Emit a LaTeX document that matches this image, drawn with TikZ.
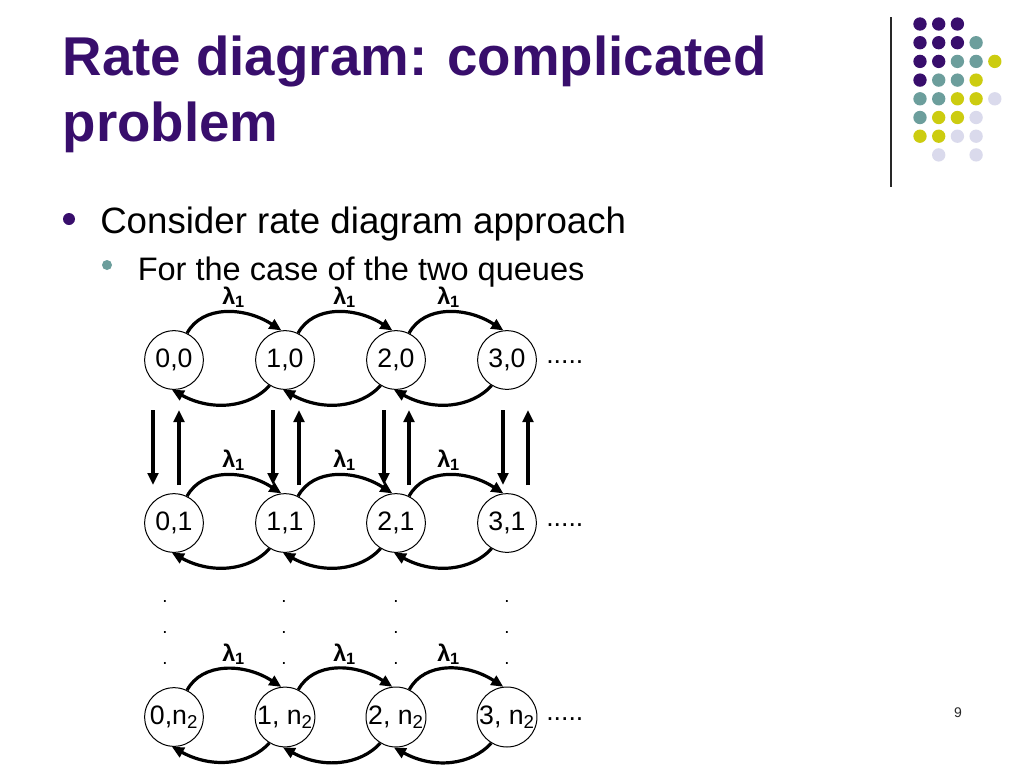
\documentclass[tikz,border=0pt]{standalone}
\usepackage{fontspec}
\setmainfont{Liberation Sans}
\usetikzlibrary{arrows.meta,calc}
\definecolor{titlepurple}{RGB}{56,14,108}
\definecolor{dotteal}{RGB}{108,158,156}
\definecolor{dotyellow}{RGB}{204,204,16}
\definecolor{dotlav}{RGB}{218,218,236}
\definecolor{rulegray}{RGB}{40,40,40}
\tikzset{
  state/.style={circle, draw=black, line width=0.75pt, minimum size=44pt, inner sep=0pt, font=\fontsize{20}{24}\selectfont},
  rate/.style={line width=2.4pt, -{Triangle[length=9pt,width=8pt]}},
  lam/.style={font=\fontsize{17.5}{20}\selectfont\bfseries, inner sep=0pt, anchor=base west},
  more/.style={font=\fontsize{20}{24}\selectfont, anchor=base west, inner sep=0pt},
  vdot/.style={font=\fontsize{14}{16}\selectfont, inner sep=0pt, anchor=base},
  deco/.style={circle, inner sep=0pt, minimum size=10pt},
}
\newcommand{\lmb}{λ\textsubscript{1}}
\begin{document}
\begin{tikzpicture}[x=0.75pt,y=-0.75pt]
\useasboundingbox (0,0) rectangle (1024,768);
\clip (0,0) rectangle (1024,768);
\fill[white] (0,0) rectangle (1024,768);
% title
\node[anchor=base west, inner sep=0pt, text=titlepurple, font=\fontsize{41}{49}\selectfont\bfseries] (t1) at (62.5,75) {Rate diagram: complicated};
\node[anchor=base west, inner sep=0pt, text=titlepurple, font=\fontsize{41}{49}\selectfont\bfseries] (t2) at (62.5,141) {problem};
% decoration
\draw[rulegray, line width=1.2pt] (891,17) coordinate (r1) -- (891,187) coordinate (r2);
\foreach \c/\x/\y in {
 titlepurple/0/0, titlepurple/1/0, titlepurple/2/0,
 titlepurple/0/1, titlepurple/1/1, titlepurple/2/1, dotteal/3/1,
 titlepurple/0/2, titlepurple/1/2, dotteal/2/2, dotteal/3/2, dotyellow/4/2,
 titlepurple/0/3, dotteal/1/3, dotteal/2/3, dotyellow/3/3,
 dotteal/0/4, dotteal/1/4, dotyellow/2/4, dotyellow/3/4, dotlav/4/4,
 dotteal/0/5, dotyellow/1/5, dotyellow/2/5, dotlav/3/5,
 dotyellow/0/6, dotyellow/1/6, dotlav/2/6, dotlav/3/6,
 dotlav/1/7, dotlav/3/7}
 \node[deco, fill=\c] (d\x\y) at ({920+18.7*\x},{24+18.7*\y}) {};
% bullets
\node[circle, fill=titlepurple, inner sep=0pt, minimum size=9pt] (bu1) at (69,219) {};
\node[anchor=base west, inner sep=0pt, font=\fontsize{27.5}{32}\selectfont] (l1) at (100,233) {Consider rate diagram approach};
\node[circle, fill=dotteal, inner sep=0pt, minimum size=7.5pt] (bu2) at (107,265) {};
\node[anchor=base west, inner sep=0pt, font=\fontsize{24.4}{28}\selectfont] (l2) at (137.5,280) {For the case of the two queues};
% states
\node[state] (a0) at (174,360) {0,0};
\node[state] (a1) at (285,360) {1,0};
\node[state] (a2) at (396,360) {2,0};
\node[state] (a3) at (507,360) {3,0};
\node[state] (b0) at (174,523) {0,1};
\node[state] (b1) at (285,523) {1,1};
\node[state] (b2) at (396,523) {2,1};
\node[state] (b3) at (507,523) {3,1};
\node[state] (c0) at (174,717) {0,n\textsubscript{2}};
\node[state] (c1) at (285,717) {1, n\textsubscript{2}};
\node[state] (c2) at (396,717) {2, n\textsubscript{2}};
\node[state] (c3) at (507,717) {3, n\textsubscript{2}};
% trailing dots
\node[more] (ma) at (546,363) {.....};
\node[more] (mb) at (546,526) {.....};
\node[more] (mc) at (546,720) {.....};
% arcs and rate labels
\foreach \p/\q/\lx in {a0/a1/48,a1/a2/48,a2/a3/41,b0/b1/48,b1/b2/48,b2/b3/41,c0/c1/48,c1/c2/48,c2/c3/41}{
  \draw[rate] (\p.64) .. controls +(15,-28) and +(-37,-24) .. (\q.97);
  \draw[rate] (\q.239) .. controls +(-20,22) and +(40,22) .. (\p.266);
  \node[lam] (lab\p) at ($(\p)+(\lx,-56)$) {\lmb};
}
% vertical arrows between row a and row b
\foreach \n/\dx/\ux in {0/-21/5, 1/-12/14, 2/-12/13, 3/-4/21}{
  \coordinate (dt\n) at ($(a\n)+(\dx,50)$);
  \coordinate (db\n) at ($(b\n)+(\dx,-38)$);
  \coordinate (ut\n) at ($(a\n)+(\ux,50)$);
  \coordinate (ub\n) at ($(b\n)+(\ux,-38)$);
  \draw[rate] (dt\n) -- (db\n);
  \draw[rate] (ub\n) -- (ut\n);
}
% vertical ellipsis dots
\foreach \x [count=\i] in {165,284,396,507}{
  \node[vdot] (e\i a) at (\x,602) {.};
  \node[vdot] (e\i b) at (\x,633) {.};
  \node[vdot] (e\i c) at (\x,664) {.};
}
% page number
\node[font=\fontsize{10.5}{12}\selectfont, text=rulegray] (pg) at (958,713) {9};
\end{tikzpicture}
\end{document}
